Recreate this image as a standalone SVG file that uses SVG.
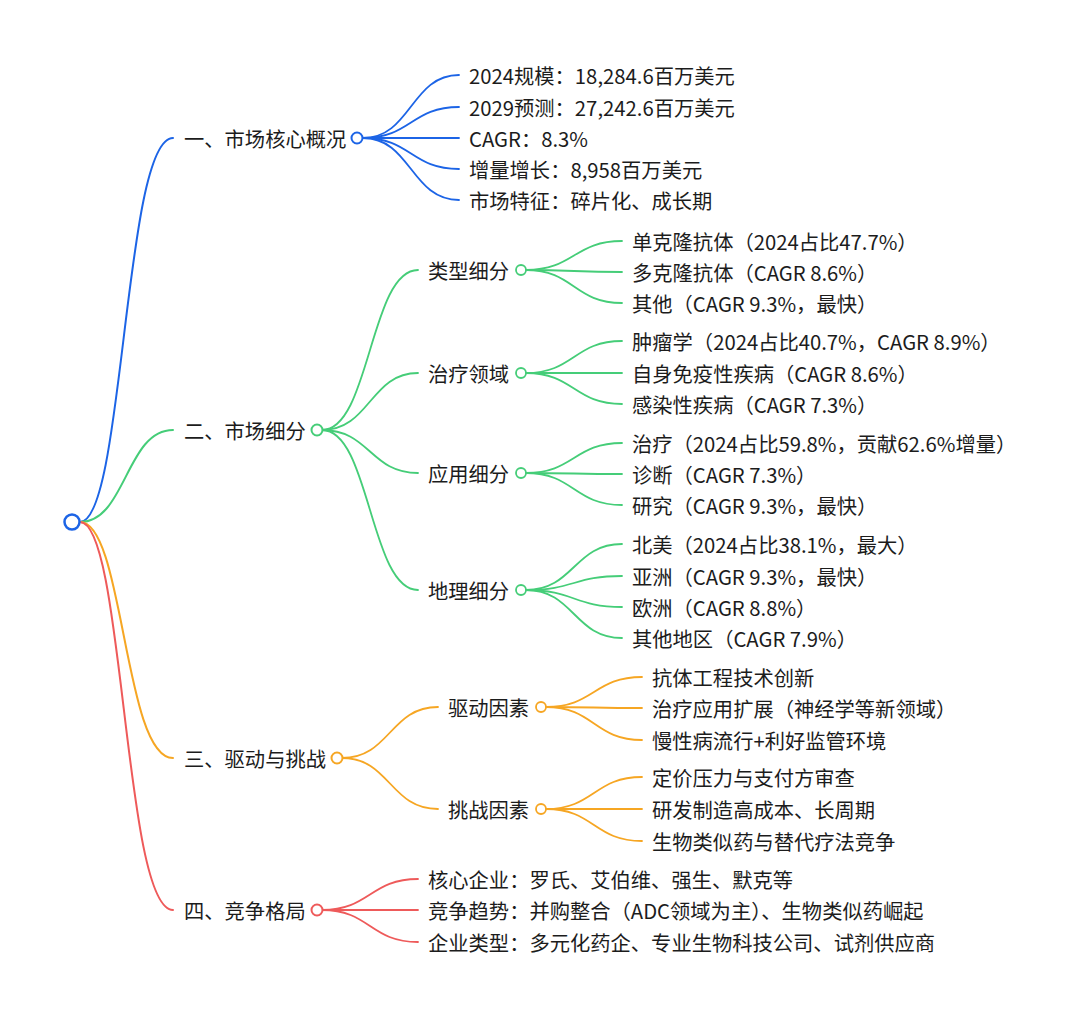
<svg xmlns="http://www.w3.org/2000/svg" width="1080" height="1015" viewBox="0 0 1080 1015">
<style>
text{font-family:"Noto Sans CJK SC","Noto Sans",sans-serif;font-size:20.3px;fill:#1c1c1c;dominant-baseline:central}
path{fill:none;stroke-linecap:round}
.b{stroke:#1c64e6}
.g{stroke:#45cd78}
.o{stroke:#f6a623}
.r{stroke:#ee5a5a}
.l1{stroke-width:2}
.l2{stroke-width:1.8}
circle{fill:#fff}
</style>
<rect width="1080" height="1015" fill="#fff"/>
<g id="connectors">
<path class="b l1" d="M80 522C124 522,124 138,173 138"/>
<path class="g l1" d="M80 522C126 522,126 430,173 430"/>
<path class="o l1" d="M80 522C124 522,124 758,173 758"/>
<path class="r l1" d="M80 522C124 522,124 910,173 910"/>
<path class="b l2" d="M363 138C411 138,411 75,459 75"/>
<path class="b l2" d="M363 138C411 138,411 107,459 107"/>
<path class="b l2" d="M363 138C411 138,411 138,459 138"/>
<path class="b l2" d="M363 138C411 138,411 169,459 169"/>
<path class="b l2" d="M363 138C411 138,411 200,459 200"/>
<path class="g l2" d="M322 430C370 430,370 270,418 270"/>
<path class="g l2" d="M322 430C370 430,370 373,418 373"/>
<path class="g l2" d="M322 430C370 430,370 473,418 473"/>
<path class="g l2" d="M322 430C370 430,370 590,418 590"/>
<path class="g l2" d="M526 270C574 270,574 241,622 241"/>
<path class="g l2" d="M526 270C574 270,574 272,622 272"/>
<path class="g l2" d="M526 270C574 270,574 303,622 303"/>
<path class="g l2" d="M526 373C574 373,574 341,622 341"/>
<path class="g l2" d="M526 373C574 373,574 373,622 373"/>
<path class="g l2" d="M526 373C574 373,574 404,622 404"/>
<path class="g l2" d="M526 473C574 473,574 443,622 443"/>
<path class="g l2" d="M526 473C574 473,574 474,622 474"/>
<path class="g l2" d="M526 473C574 473,574 505,622 505"/>
<path class="g l2" d="M526 590C574 590,574 544,622 544"/>
<path class="g l2" d="M526 590C574 590,574 576,622 576"/>
<path class="g l2" d="M526 590C574 590,574 607,622 607"/>
<path class="g l2" d="M526 590C574 590,574 638,622 638"/>
<path class="o l2" d="M342 758C390 758,390 707,438 707"/>
<path class="o l2" d="M342 758C390 758,390 809,438 809"/>
<path class="o l2" d="M546 707C594 707,594 677,642 677"/>
<path class="o l2" d="M546 707C594 707,594 708,642 708"/>
<path class="o l2" d="M546 707C594 707,594 740,642 740"/>
<path class="o l2" d="M546 809C594 809,594 777,642 777"/>
<path class="o l2" d="M546 809C594 809,594 809,642 809"/>
<path class="o l2" d="M546 809C594 809,594 841,642 841"/>
<path class="r l2" d="M322 910C370 910,370 879,418 879"/>
<path class="r l2" d="M322 910C370 910,370 910,418 910"/>
<path class="r l2" d="M322 910C370 910,370 942,418 942"/>
</g>
<g id="root"><circle class="b" cx="72" cy="522" r="7.5" stroke-width="2.5"/></g>
<g id="n1"><text x="184" y="138">一、市场核心概况</text><circle class="b" cx="357" cy="138" r="5.5" stroke-width="2"/></g>
<g id="n1-1"><text x="469" y="75">2024规模：18,284.6百万美元</text></g>
<g id="n1-2"><text x="469" y="107">2029预测：27,242.6百万美元</text></g>
<g id="n1-3"><text x="469" y="138">CAGR：8.3%</text></g>
<g id="n1-4"><text x="469" y="169">增量增长：8,958百万美元</text></g>
<g id="n1-5"><text x="469" y="200">市场特征：碎片化、成长期</text></g>
<g id="n2"><text x="184" y="430">二、市场细分</text><circle class="g" cx="317" cy="430" r="5.5" stroke-width="2"/></g>
<g id="n2-1"><text x="428" y="270">类型细分</text><circle class="g" cx="521" cy="270" r="5" stroke-width="1.8"/></g>
<g id="n2-1-1"><text x="632" y="241">单克隆抗体（2024占比47.7%）</text></g>
<g id="n2-1-2"><text x="632" y="272">多克隆抗体（CAGR 8.6%）</text></g>
<g id="n2-1-3"><text x="632" y="303">其他（CAGR 9.3%，最快）</text></g>
<g id="n2-2"><text x="428" y="373">治疗领域</text><circle class="g" cx="521" cy="373" r="5" stroke-width="1.8"/></g>
<g id="n2-2-1"><text x="632" y="341">肿瘤学（2024占比40.7%，CAGR 8.9%）</text></g>
<g id="n2-2-2"><text x="632" y="373">自身免疫性疾病（CAGR 8.6%）</text></g>
<g id="n2-2-3"><text x="632" y="404">感染性疾病（CAGR 7.3%）</text></g>
<g id="n2-3"><text x="428" y="473">应用细分</text><circle class="g" cx="521" cy="473" r="5" stroke-width="1.8"/></g>
<g id="n2-3-1"><text x="632" y="443">治疗（2024占比59.8%，贡献62.6%增量）</text></g>
<g id="n2-3-2"><text x="632" y="474">诊断（CAGR 7.3%）</text></g>
<g id="n2-3-3"><text x="632" y="505">研究（CAGR 9.3%，最快）</text></g>
<g id="n2-4"><text x="428" y="590">地理细分</text><circle class="g" cx="521" cy="590" r="5" stroke-width="1.8"/></g>
<g id="n2-4-1"><text x="632" y="544">北美（2024占比38.1%，最大）</text></g>
<g id="n2-4-2"><text x="632" y="576">亚洲（CAGR 9.3%，最快）</text></g>
<g id="n2-4-3"><text x="632" y="607">欧洲（CAGR 8.8%）</text></g>
<g id="n2-4-4"><text x="632" y="638">其他地区（CAGR 7.9%）</text></g>
<g id="n3"><text x="184" y="758">三、驱动与挑战</text><circle class="o" cx="337" cy="758" r="5.5" stroke-width="2"/></g>
<g id="n3-1"><text x="448" y="707">驱动因素</text><circle class="o" cx="541" cy="707" r="5" stroke-width="1.8"/></g>
<g id="n3-1-1"><text x="652" y="677">抗体工程技术创新</text></g>
<g id="n3-1-2"><text x="652" y="708">治疗应用扩展（神经学等新领域）</text></g>
<g id="n3-1-3"><text x="652" y="740">慢性病流行+利好监管环境</text></g>
<g id="n3-2"><text x="448" y="809">挑战因素</text><circle class="o" cx="541" cy="809" r="5" stroke-width="1.8"/></g>
<g id="n3-2-1"><text x="652" y="777">定价压力与支付方审查</text></g>
<g id="n3-2-2"><text x="652" y="809">研发制造高成本、长周期</text></g>
<g id="n3-2-3"><text x="652" y="841">生物类似药与替代疗法竞争</text></g>
<g id="n4"><text x="184" y="910">四、竞争格局</text><circle class="r" cx="317" cy="910" r="5.5" stroke-width="2"/></g>
<g id="n4-1"><text x="428" y="879">核心企业：罗氏、艾伯维、强生、默克等</text></g>
<g id="n4-2"><text x="428" y="910">竞争趋势：并购整合（ADC领域为主）、生物类似药崛起</text></g>
<g id="n4-3"><text x="428" y="942">企业类型：多元化药企、专业生物科技公司、试剂供应商</text></g>
</svg>
